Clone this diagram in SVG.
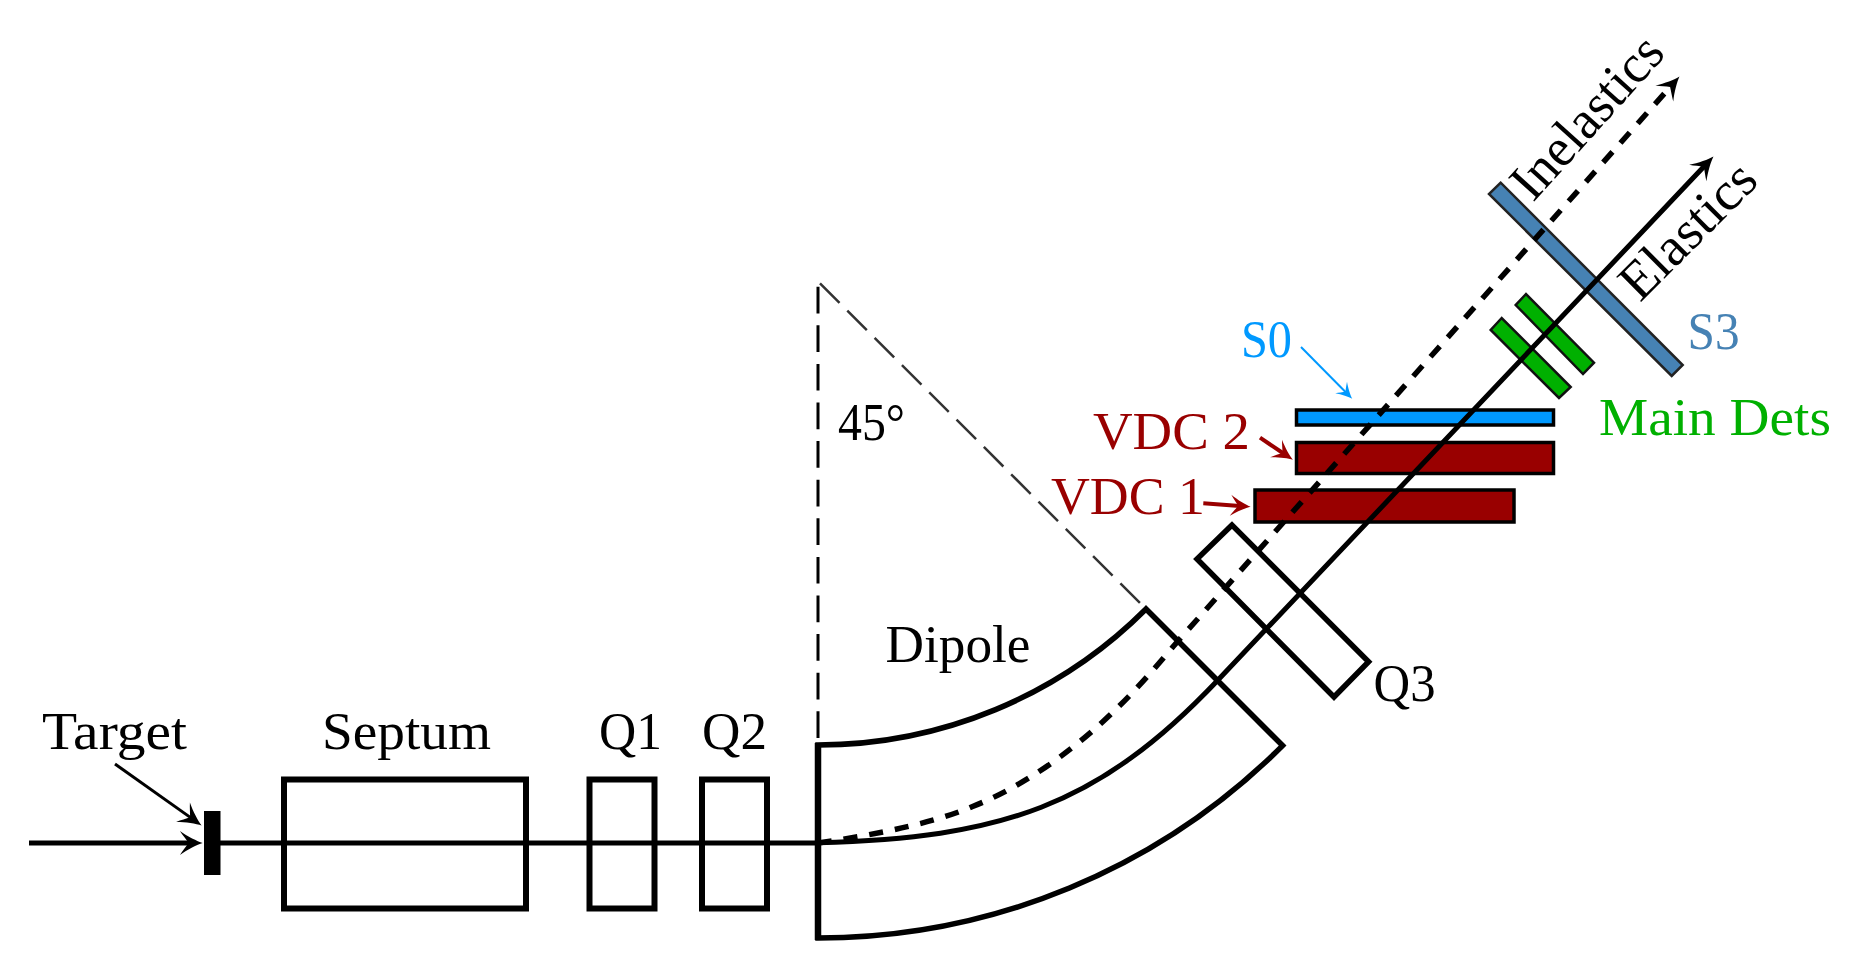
<svg xmlns="http://www.w3.org/2000/svg" width="1858" height="970" viewBox="0 0 1858 970">
<defs>
<style>
text{font-family:"Liberation Serif","Times New Roman",serif;font-size:52px;fill:#000}
.box{fill:none;stroke:#000;stroke-width:6}
.q3{fill:none;stroke:#000;stroke-width:5.5}
.vdc{fill:#990000;stroke:#000;stroke-width:3.5}
.s0{fill:#0099ff;stroke:#000;stroke-width:3.5}
.main{fill:#00b000;stroke:#111;stroke-width:2.5}
.s3{fill:#4682b4;stroke:#222;stroke-width:2.5}
.red{fill:#990000}
.line{fill:none;stroke:#000;stroke-width:5}
.guide{fill:none;stroke:#000}
</style>
<marker id="headK" markerUnits="userSpaceOnUse" markerWidth="26" markerHeight="26" viewBox="0 0 24 24" refX="14" refY="12" orient="auto"><path d="M22 12C17 10.5 8 6 1 1C3.5 5 7 9 9 12C7 15 3.5 19 1 23C8 18 17 13.5 22 12Z" fill="#000"/></marker>
<marker id="headR" markerUnits="userSpaceOnUse" markerWidth="23" markerHeight="23" viewBox="0 0 24 24" refX="14" refY="12" orient="auto"><path d="M22 12C17 10.5 8 6 1 1C3.5 5 7 9 9 12C7 15 3.5 19 1 23C8 18 17 13.5 22 12Z" fill="#990000"/></marker>
<marker id="headB" markerUnits="userSpaceOnUse" markerWidth="18" markerHeight="18" viewBox="0 0 24 24" refX="14" refY="12" orient="auto"><path d="M22 12C17 10.5 8 6 1 1C3.5 5 7 9 9 12C7 15 3.5 19 1 23C8 18 17 13.5 22 12Z" fill="#0099ff"/></marker>
</defs>
<rect width="1858" height="970" fill="#fff"/>
<g id="target"><rect x="204" y="811" width="16.5" height="64" fill="#000"/><text x="42" y="749" textLength="145" lengthAdjust="spacingAndGlyphs">Target</text></g>
<g id="septum"><rect class="box" x="284" y="779.5" width="242" height="129"/><text x="322" y="749" textLength="169" lengthAdjust="spacingAndGlyphs">Septum</text></g>
<g id="q1"><rect class="box" x="589.5" y="779.5" width="65" height="129"/><text x="599" y="749" textLength="63" lengthAdjust="spacingAndGlyphs">Q1</text></g>
<g id="q2"><rect class="box" x="702" y="779.5" width="65" height="129"/><text x="702" y="749" textLength="65" lengthAdjust="spacingAndGlyphs">Q2</text></g>
<g id="dipole"><path fill="none" stroke="#000" stroke-width="5.5" d="M818 745A464 464 0 0 0 1146 609L1282.6 745.6A657 657 0 0 1 818 938Z"/><path d="M818 743V940" fill="none" stroke="#000" stroke-width="6.5"/><text x="885.5" y="662" textLength="145" lengthAdjust="spacingAndGlyphs">Dipole</text></g>
<g id="angle"><text x="838" y="440" textLength="67" lengthAdjust="spacingAndGlyphs">45°</text></g>
<g id="q3"><path class="q3" d="M1232 525L1197 559L1334 697L1368.6 661.7Z"/><text x="1373.5" y="701" textLength="62" lengthAdjust="spacingAndGlyphs">Q3</text></g>
<g id="vdc1"><rect class="vdc" x="1255" y="490" width="259" height="32"/><text class="red" x="1051" y="513.5" textLength="154" lengthAdjust="spacingAndGlyphs">VDC 1</text></g>
<g id="vdc2"><rect class="vdc" x="1296.5" y="442.5" width="257" height="31"/><text class="red" x="1093" y="448.5" textLength="157" lengthAdjust="spacingAndGlyphs">VDC 2</text></g>
<g id="s0"><rect class="s0" x="1296.5" y="410" width="257" height="15"/><text x="1241" y="357" textLength="51" lengthAdjust="spacingAndGlyphs" style="fill:#0099ff">S0</text></g>
<g id="main-dets"><path class="main" d="M1526 294L1515.7 305L1583 374L1594 362.7Z"/><path class="main" d="M1501.7 318L1490.7 330L1559 398L1570.7 387Z"/><text x="1599" y="435" textLength="232" lengthAdjust="spacingAndGlyphs" style="fill:#00b000">Main Dets</text></g>
<g id="s3"><path class="s3" d="M1500.7 182.7L1489 194L1671.7 376L1682.7 365Z"/><text x="1687.5" y="349" textLength="52" lengthAdjust="spacingAndGlyphs" style="fill:#4682b4">S3</text></g>
<g id="inelastics"><text transform="translate(1533 203) rotate(-48)" x="0" y="0" textLength="200" lengthAdjust="spacingAndGlyphs" style="font-size:54px">Inelastics</text></g>
<g id="elastics"><text transform="translate(1640 303) rotate(-45)" x="0" y="0" textLength="170" lengthAdjust="spacingAndGlyphs" style="font-size:54px">Elastics</text></g>
<g id="connectors">
<path class="guide" stroke-width="3" stroke-dasharray="26.7 11.9" d="M818 286.7V745"/>
<path class="guide" style="stroke:#333" stroke-width="2.5" stroke-dasharray="27.6 11" d="M820 283.3L1140 603"/>
<path class="line" d="M29 843H194" marker-end="url(#headK)"/>
<path class="line" d="M204 843H818"/>
<path class="line" style="stroke-width:3" d="M115 764L194.5 820.4" marker-end="url(#headK)"/>
<path class="line" d="M818 842.7C1000 838 1098 807 1218 680L1707.5 162.8" marker-end="url(#headK)"/>
<path class="line" style="stroke-width:5.5" stroke-dasharray="14 12" d="M818 843C860 837 930 825 972 806.7C1020 788 1065 756 1101.7 722.7C1130 697 1150 674 1173 646.7L1673.7 83" marker-end="url(#headK)"/>
<path class="line" style="stroke:#0099ff;stroke-width:2" d="M1301 347L1348 394.5" marker-end="url(#headB)"/>
<path class="line" style="stroke:#990000;stroke-width:4" d="M1260 437.7L1286.5 455.5" marker-end="url(#headR)"/>
<path class="line" style="stroke:#990000;stroke-width:4" d="M1203.3 503.3L1243 506.2" marker-end="url(#headR)"/>
</g>
</svg>
